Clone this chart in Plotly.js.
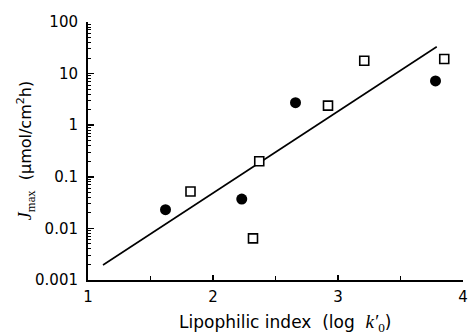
<!DOCTYPE html>
<html>
<head>
<meta charset="utf-8">
<script src="https://cdn.plot.ly/plotly-3.0.1.min.js"></script>
<style>html,body{margin:0;padding:0;background:#fff}#chart{width:468px;height:334px}</style>
</head>
<body>
<div id="chart"></div>
<script>
// Filled circles
var circleX = [1.62, 2.23, 2.66, 3.78];
var circleY = [0.023, 0.037, 2.73, 7.2];
// Open squares
var squareX = [1.82, 2.32, 2.37, 2.92, 3.21, 3.85];
var squareY = [0.052, 0.0064, 0.20, 2.39, 17.8, 19.2];
// Regression line end points
var fitX = [1.12, 3.79];
var fitY = [0.00195, 33.2];
// Tick labels
var yTickVals = [0.001, 0.01, 0.1, 1, 10, 100];
var yTickText = ['0.001', '0.01', '0.1', '1', '10', '100'];
var xTickVals = [1, 2, 3, 4];
var xTickText = ['1', '2', '3', '4'];

var yMinor = [];
for (var d = -3; d < 2; d++) {
  for (var m = 2; m <= 9; m++) yMinor.push(m * Math.pow(10, d));
}

var traces = [
  {x: fitX, y: fitY, mode: 'lines', line: {color: '#000', width: 1.6}, hoverinfo: 'skip'},
  {x: squareX, y: squareY, mode: 'markers',
   marker: {symbol: 'square', size: 9, color: '#fff', line: {color: '#000', width: 1.6}}},
  {x: circleX, y: circleY, mode: 'markers',
   marker: {symbol: 'circle', size: 11, color: '#000', line: {width: 0}}}
];

var fnt = {family: 'DejaVu Sans, Verdana, sans-serif', size: 15, color: '#000'};
var NB = '\u00a0';

var layout = {
  width: 468, height: 334,
  margin: {l: 88, r: 5, t: 22, b: 54},
  paper_bgcolor: '#fff', plot_bgcolor: '#fff',
  showlegend: false,
  font: fnt,
  xaxis: {
    range: [1, 4], showgrid: false, zeroline: false,
    showline: true, linecolor: '#000', linewidth: 1.5,
    tickmode: 'array', tickvals: xTickVals, ticktext: xTickText,
    ticks: 'inside', ticklen: 5, tickwidth: 1.5, tickcolor: '#000',
    minor: {tickvals: [1.5, 2.5, 3.5], ticks: 'inside', ticklen: 4, tickwidth: 1.5, tickcolor: '#000', showgrid: false},
    tickfont: fnt, ticklabelstandoff: 2
  },
  yaxis: {
    type: 'log', range: [-3, 2], showgrid: false, zeroline: false,
    showline: true, linecolor: '#000', linewidth: 2,
    tickmode: 'array', tickvals: yTickVals, ticktext: yTickText,
    ticks: 'inside', ticklen: 6, tickwidth: 1.5, tickcolor: '#000',
    minor: {tickvals: yMinor, ticks: 'inside', ticklen: 3, tickwidth: 1, tickcolor: '#000', showgrid: false},
    tickfont: fnt, ticklabelstandoff: 5
  },
  annotations: [
    {xref: 'paper', yref: 'paper', x: 0.525, y: -0.167, xanchor: 'center', yanchor: 'middle', showarrow: false,
     text: 'Lipophilic index' + NB + NB + '(log' + NB + NB + '<span style="font-family:Liberation Serif,Times New Roman,serif;font-size:19px"><i>k′</i><sub>0</sub></span>)',
     font: {family: 'DejaVu Sans, Verdana, sans-serif', size: 17, color: '#000'}},
    {xref: 'paper', yref: 'paper', x: -0.165, y: 0.5, xanchor: 'center', yanchor: 'middle', showarrow: false, textangle: -90,
     text: '<span style="font-family:Liberation Serif,Times New Roman,serif;font-size:18px"><i>J</i><sub>max</sub></span>' + NB + NB + '(μmol/cm<sup>2</sup>h)',
     font: {family: 'DejaVu Sans, Verdana, sans-serif', size: 16, color: '#000'}}
  ]
};

Plotly.newPlot('chart', traces, layout, {displayModeBar: false, staticPlot: true});
</script>
</body>
</html>
